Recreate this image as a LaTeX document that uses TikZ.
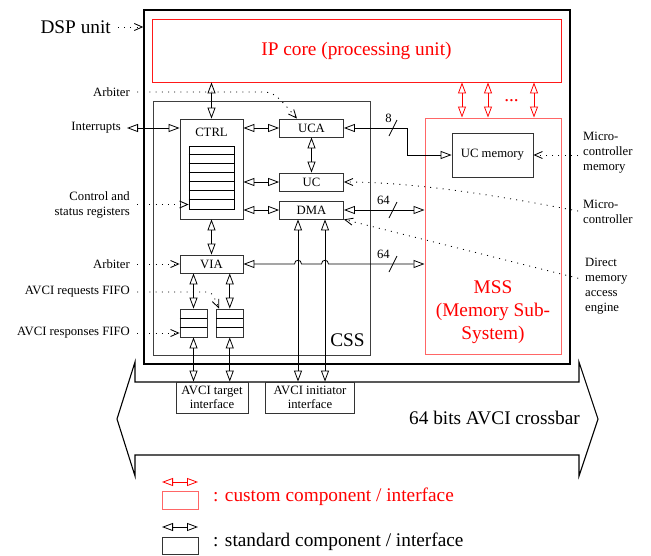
\documentclass[tikz,border=0pt]{standalone}
\usepackage{fontspec}
\setmainfont{Liberation Serif}
\usetikzlibrary{arrows.meta}
\newcommand\smf{\fontsize{12.7}{15}\selectfont}
\newcommand\smfi{\fontsize{12.7}{13.5}\selectfont}
\newcommand\bigf{\fontsize{19.3}{23}\selectfont}
\begin{document}
\begin{tikzpicture}[x=1pt,y=-1pt,
  OT/.tip={Triangle[open,length=11pt,width=8pt]},
  box/.style={draw=black!80,line width=0.8pt,inner sep=0pt,font=\smf},
  rbox/.style={draw=red!60,line width=1pt,inner sep=0pt},
  lab/.style={font=\smf,inner sep=0pt},
  dbl/.style={{OT}-{OT},line width=0.8pt},
  rdbl/.style={{OT}-{OT},line width=0.8pt,draw=red},
  dotarr/.style={-{Straight Barb[length=8pt,width=7pt]},dash pattern=on 1pt off 5.2pt,line width=0.85pt},
  slash/.style={line width=0.8pt}
]
\useasboundingbox (0,0) rectangle (651,555);

% main containers
\node[draw,line width=1.4pt,minimum width=426,minimum height=354,inner sep=0pt] (outer) at (357,187) {};
\node[draw=red!90,line width=0.9pt,minimum width=409,minimum height=63,inner sep=0pt,font=\bigf,text=red] (IP) at (356.5,50.5) {IP core (processing unit)};
\node[draw=black!75,line width=1pt,minimum width=217,minimum height=254,inner sep=0pt] (CSS) at (261.5,228) {};
\node[font=\bigf,inner sep=0pt] (CSSt) at (347.5,340) {CSS};
\node[rbox,minimum width=136,minimum height=236] (MSS) at (493,236) {};
\node[font=\bigf,text=red,align=center,inner sep=0pt] (MSSt) at (493,312) {MSS\\(Memory Sub-\\System)};

% CSS content
\node[box,minimum width=63,minimum height=100] (CTRL) at (211.5,169) {};
\node[lab] (CTRLt) at (211.5,132) {CTRL};
\node[draw,line width=0.8pt,minimum width=45,minimum height=63,inner sep=0pt] (REGS) at (211.5,177.5) {};
\foreach \k in {1,...,6}
  \draw[line width=0.8pt] ([yshift=-9*\k pt]REGS.north west) -- ([yshift=-9*\k pt]REGS.north east);
\node[box,minimum width=64,minimum height=18] (UCA) at (311.5,128) {UCA};
\node[box,minimum width=64,minimum height=18] (UC) at (311.5,182) {UC};
\node[box,minimum width=64,minimum height=18] (DMA) at (311.5,210) {DMA};
\node[box,minimum width=63,minimum height=18] (VIA) at (211.5,264) {VIA};
\node[box,minimum width=27,minimum height=28] (FIFOL) at (193.5,323) {};
\node[box,minimum width=26.5,minimum height=28] (FIFOR) at (229.75,323) {};
\foreach \f in {FIFOL,FIFOR}
  \foreach \k in {1,2}
    \draw[line width=0.8pt] ([yshift=-9.33*\k pt]\f.north west) -- ([yshift=-9.33*\k pt]\f.north east);
\node[box,minimum width=81,minimum height=44] (UCmem) at (492.5,155) {UC memory};

% crossbar
\draw[line width=1.1pt,line join=miter] (117,419) -- (135,362) -- (135,382) -- (579,382) -- (579,362) -- (598,419)
  -- (579,476) -- (579,455) -- (135,455) -- (135,476) -- cycle;
\node[font=\bigf,anchor=east,inner sep=0pt] (XBt) at (580,418) {64 bits AVCI crossbar};
\node[box,minimum width=72,minimum height=31,align=center,font=\smfi] (TGT) at (212,397.5) {AVCI target\\interface};
\node[box,minimum width=89.5,minimum height=31,align=center,font=\smfi] (INI) at (310,397.5) {AVCI initiator\\interface};

% labels
\node[font=\bigf,anchor=east,inner sep=0pt] (DSP) at (111,27) {DSP unit};
\node[lab,anchor=east] (ARB1) at (130,92) {Arbiter};
\node[lab,anchor=east] (INT) at (121,128) {Interrupts};
\node[lab,anchor=east,align=right] (CSR) at (130,204.5) {Control and\\status registers};
\node[lab,anchor=east] (ARB2) at (130,264) {Arbiter};
\node[lab,anchor=east] (REQ) at (130,292) {AVCI requests FIFO};
\node[lab,anchor=east] (RESP) at (130,333) {AVCI responses FIFO};
\node[lab,anchor=west,align=left] (MCM) at (583,153) {Micro-\\controller\\memory};
\node[lab,anchor=west,align=left] (MC) at (583,212) {Micro-\\controller};
\node[lab,anchor=west,align=left] (DMAE) at (585,286) {Direct\\memory\\access\\engine};

% solid connectors
\draw[dbl,shorten <=6pt] (INT.east) -- (INT.east -| CTRL.west);
\draw[dbl] (IP.south -| CTRL.north) -- (CTRL.north);
\draw[dbl] (CTRL.east |- UCA.west) -- (UCA.west);
\draw[dbl] (CTRL.east |- UC.west) -- (UC.west);
\draw[dbl] (CTRL.east |- DMA.west) -- (DMA.west);
\draw[dbl] (UCA.south) -- (UC.north);
\draw[dbl] (CTRL.south) -- (VIA.north);
\draw[dbl] (VIA.south -| FIFOL.north) -- (FIFOL.north);
\draw[dbl] (VIA.south -| FIFOR.north) -- (FIFOR.north);
\draw[dbl] (FIFOL.south) -- (FIFOL.south |- TGT.north);
\draw[dbl] (FIFOR.south) -- (FIFOR.south |- TGT.north);
\draw[dbl] ([xshift=-13.5pt]DMA.south) -- ([xshift=-13.5pt]DMA.south |- INI.north);
\draw[dbl] ([xshift=13.5pt]DMA.south) -- ([xshift=13.5pt]DMA.south |- INI.north);
\draw[dbl] (UCA.east) -- (407,0 |- UCA.east) |- (UCmem.west);
\draw[dbl] (DMA.east) -- (DMA.east -| MSS.west);
\draw[dbl] (VIA.east) -- (294.5,264) .. controls +(0,-5) and +(0,-5) .. (301.5,264)
  -- (321.5,264) .. controls +(0,-5) and +(0,-5) .. (328.5,264) -- (VIA.east -| MSS.west);

% bus width marks
\coordinate (s8) at (393,0 |- UCA.east);
\coordinate (s64a) at (393,0 |- DMA.east);
\coordinate (s64b) at (393,0 |- VIA.east);
\foreach \s in {s8,s64a,s64b}
  \draw[slash] ([shift={(-4,8)}]\s) -- ([shift={(4,-8)}]\s);
\node[lab,anchor=south east] (l8) at ([shift={(-1,-5)}]s8) {8};
\node[lab,anchor=south east] (l64a) at ([shift={(-3,-5)}]s64a) {64};
\node[lab,anchor=south east] (l64b) at ([shift={(-3,-5)}]s64b) {64};

% IP <-> MSS
\foreach \xx in {462,488,534}
  \draw[rdbl] (\xx,0 |- IP.south) -- (\xx,0 |- MSS.north);
\node[font=\bigf,text=red,anchor=base,inner sep=0pt] (dots) at (511.5,101) {...};

% dotted connectors
\draw[dotarr,shorten <=7pt] (DSP.east) -- (DSP.east -| outer.west);
\draw[dotarr,shorten <=7pt] (ARB1.east) -- (258,92) .. controls (274,92) .. ([xshift=-14.5pt]UCA.north);
\draw[dotarr,shorten <=7pt] (CSR.east) -- (CSR.east -| REGS.west);
\draw[dotarr,shorten <=7pt] (ARB2.east) -- (ARB2.east -| VIA.west);
\draw[dotarr,shorten <=7pt] (REQ.east) -- (203,292) .. controls (212,292) .. ([xshift=3pt]FIFOR.north west);
\draw[dotarr,shorten <=7pt] (RESP.east) -- (RESP.east -| FIFOL.west);
\draw[dotarr,shorten <=5pt] (MCM.west |- UCmem.east) -- (UCmem.east);
\draw[dotarr,shorten <=5pt] (MC.west) .. controls (510,198) and (420,182) .. (UC.east);
\draw[dotarr,shorten <=7pt] ([yshift=6pt]DMAE.west) -- (DMA.south east);

% legend
\coordinate (lr1) at (162,482);
\coordinate (lr2) at (198,482);
\draw[rdbl] (lr1) -- (lr2);
\node[rbox,minimum width=36,minimum height=18] (LR) at (180,500) {};
\node[font=\bigf,text=red,anchor=base west,inner sep=0pt] (LRt) at (213,501) {: custom component / interface};
\coordinate (lb1) at (162,527);
\coordinate (lb2) at (198,527);
\draw[dbl] (lb1) -- (lb2);
\node[box,minimum width=36,minimum height=17] (LB) at (180,545.5) {};
\node[font=\bigf,anchor=base west,inner sep=0pt] (LBt) at (213,546) {: standard component / interface};
\end{tikzpicture}
\end{document}
